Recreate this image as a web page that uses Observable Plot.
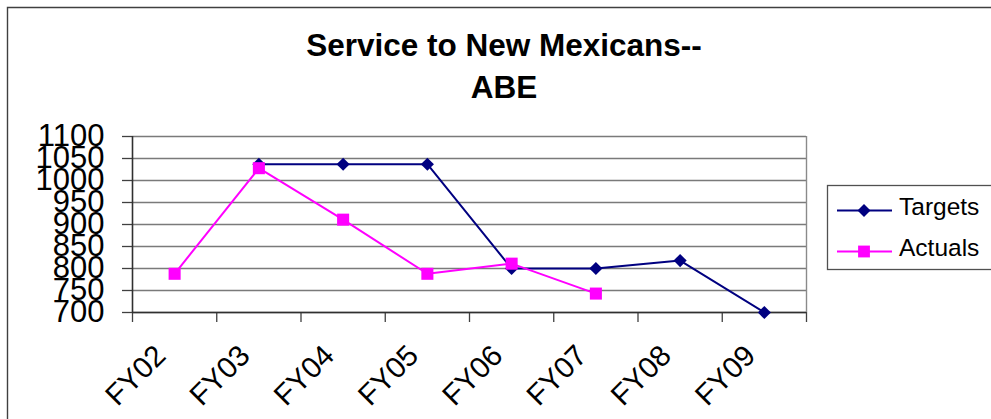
<!DOCTYPE html>
<html>
<head>
<meta charset="utf-8">
<script src="https://cdn.jsdelivr.net/npm/d3@7"></script>
<script src="https://cdn.jsdelivr.net/npm/@observablehq/plot@0.6"></script>
<style>
  html, body { margin: 0; padding: 0; background: #fff; }
  #chart { width: 991px; height: 419px; overflow: hidden; }
</style>
</head>
<body>
<div id="chart"></div>
<script>
// Fiscal years on the category axis
const categories = ["FY02", "FY03", "FY04", "FY05", "FY06", "FY07", "FY08", "FY09"];
// ABE service counts (null where a year has no value)
const targets = [null, 1037, 1037, 1037, 800, 800, 818, 700];
const actuals = [788, 1028, 911, 788, 811, 743, null, null];
// Value axis ticks
const yTicks = [700, 750, 800, 850, 900, 950, 1000, 1050, 1100];
const seriesNames = ["Targets", "Actuals"];
const titleLines = ["Service to New Mexicans--", "ABE"];

const FONT = "'Liberation Sans', Arial, Helvetica, sans-serif";
const NAVY = "#000080";
const MAGENTA = "#FF00FF";

// Each category occupies one unit; values sit in the middle of their slot
const rows = (values) => categories
  .map((c, i) => ({category: c, pos: i + 0.5, value: values[i]}))
  .filter((d) => d.value != null);
const targetRows = rows(targets);
const actualRows = rows(actuals);
const slotEdges = d3.range(0, categories.length + 1);

const svg = Plot.plot({
  width: 991,
  height: 419,
  marginTop: 136,
  marginBottom: 107,
  marginLeft: 132,
  marginRight: 185,
  style: {fontFamily: FONT, fontSize: "31px", color: "#000", background: "#fff", overflow: "hidden"},
  x: {type: "linear", domain: [0, categories.length], axis: null},
  y: {domain: [700, 1100], axis: null},
  marks: [
    // horizontal gridlines
    Plot.ruleY(yTicks, {stroke: "#7a7a7a", strokeWidth: 1.4}),
    Plot.ruleX([categories.length], {stroke: "#8a8a8a", strokeWidth: 1.4}),
    // value axis
    Plot.axisY(yTicks, {
      tickSize: 10, tickPadding: 18, stroke: "#404040", strokeWidth: 1.3,
      tickFormat: (d) => String(d),
      fontSize: 31, fill: "#000", label: null
    }),
    // category axis: tick marks on slot boundaries
    Plot.axisX(slotEdges, {
      tickSize: 10, tickFormat: () => "", stroke: "#404040", strokeWidth: 1.3, label: null
    }),
    Plot.ruleX([0], {stroke: "#303030", strokeWidth: 1.6}),
    Plot.ruleY([700], {stroke: "#303030", strokeWidth: 1.6}),
    // rotated category labels
    Plot.text(categories.map((c, i) => ({c, pos: i + 0.5})), {
      x: "pos", y: () => 700, text: "c",
      rotate: -45, textAnchor: "end", lineAnchor: "top",
      dx: -22, dy: 30, fontSize: 29.5, fill: "#000"
    }),
    // series
    Plot.line(targetRows, {x: "pos", y: "value", stroke: NAVY, strokeWidth: 2}),
    Plot.dot(targetRows, {x: "pos", y: "value", symbol: "diamond2", r: 5.9, fill: NAVY, stroke: "none"}),
    Plot.line(actualRows, {x: "pos", y: "value", stroke: MAGENTA, strokeWidth: 2}),
    Plot.dot(actualRows, {x: "pos", y: "value", symbol: "square", r: 6.8, fill: MAGENTA, stroke: "none"})
  ]
});

const root = d3.select(svg);

// chart area border (runs off the right and bottom edges)
root.append("path")
  .attr("d", "M7.5,419 L7.5,7.5 L991,7.5")
  .attr("fill", "none").attr("stroke", "#404040").attr("stroke-width", 1.4);

// title
const title = root.append("text")
  .attr("text-anchor", "middle")
  .attr("font-family", FONT).attr("font-weight", "bold").attr("font-size", 31.5)
  .attr("fill", "#000");
titleLines.forEach((t, i) => {
  title.append("tspan").attr("x", 504).attr("y", 56 + i * 42).text(t);
});

// legend
const legend = root.append("g")
  .attr("font-family", FONT).attr("font-size", 24.5).attr("text-anchor", "start");
legend.append("rect")
  .attr("x", 827.5).attr("y", 185.5).attr("width", 180).attr("height", 84)
  .attr("fill", "#fff").attr("stroke", "#505050").attr("stroke-width", 1.3);
const legendItems = [
  {name: seriesNames[0], color: NAVY, symbol: d3.symbolDiamond2, size: 108},
  {name: seriesNames[1], color: MAGENTA, symbol: d3.symbolSquare, size: 140}
];
legendItems.forEach((d, i) => {
  const cy = 210.5 + i * 41;
  legend.append("line")
    .attr("x1", 837).attr("x2", 892).attr("y1", cy).attr("y2", cy)
    .attr("stroke", d.color).attr("stroke-width", 2);
  legend.append("path")
    .attr("transform", `translate(864,${cy})`)
    .attr("d", d3.symbol(d.symbol, d.size)())
    .attr("fill", d.color);
  legend.append("text")
    .attr("x", 899).attr("y", cy + 4.5)
    .attr("fill", "#000").text(d.name);
});

document.getElementById("chart").appendChild(svg);
</script>
</body>
</html>
